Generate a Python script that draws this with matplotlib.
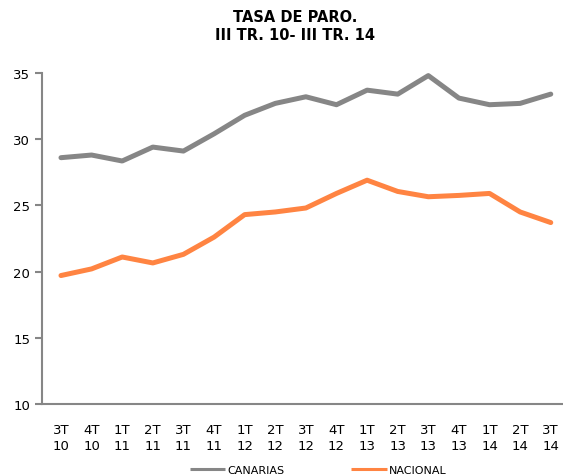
import matplotlib
matplotlib.use("Agg")
from matplotlib import pyplot as plt

# data
periodos = ["3T\n10", "4T\n10", "1T\n11", "2T\n11", "3T\n11", "4T\n11", "1T\n12", "2T\n12",
            "3T\n12", "4T\n12", "1T\n13", "2T\n13", "3T\n13", "4T\n13", "1T\n14", "2T\n14", "3T\n14"]
canarias = [28.6, 28.8, 28.35, 29.4, 29.1, 30.4, 31.8, 32.7, 33.2, 32.6, 33.7, 33.4, 34.8,
            33.1, 32.6, 32.7, 33.4]
nacional = [19.7, 20.2, 21.1, 20.65, 21.3, 22.6, 24.3, 24.5, 24.8, 25.9, 26.9, 26.05, 25.65,
            25.75, 25.9, 24.5, 23.7]

gris = "#868686"
naranja = "#FF8442"

fig = plt.figure(figsize=(5.63, 4.77), dpi=100)
ax = fig.add_axes([0.0746, 0.151, 0.9254, 0.694])

x = list(range(len(periodos)))
ax.plot(x, canarias, color=gris, lw=3.6, label="CANARIAS", solid_capstyle="round")
ax.plot(x, nacional, color=naranja, lw=3.6, label="NACIONAL", solid_capstyle="round")

ax.set_ylim(10, 35)
ax.set_yticks([10, 15, 20, 25, 30, 35])
ax.set_xlim(-0.62, 16.4)
ax.set_xticks(x)
ax.set_xticklabels(periodos, linespacing=1.3)

for s in ["top", "right"]:
    ax.spines[s].set_visible(False)
for s in ["left", "bottom"]:
    ax.spines[s].set_color(gris)
    ax.spines[s].set_linewidth(1.5)

ax.tick_params(axis="y", colors=gris, labelcolor="black", labelsize=9.5, length=5, width=1.5)
ax.tick_params(axis="x", length=0, labelsize=9.5, pad=14)

fig.text(0.524, 0.98, "TASA DE PARO.\nIII TR. 10- III TR. 14", ha="center", va="top",
         fontsize=10.5, fontweight="bold", linespacing=1.25)

leg = fig.legend(loc="lower center", bbox_to_anchor=(0.565, -0.018), ncol=2, frameon=False,
                 fontsize=8, handlelength=3.2, columnspacing=6, handletextpad=0.2)
for ln in leg.get_lines():
    ln.set_linewidth(2.2)
    ln.set_solid_capstyle("butt")

fig.savefig("out.png", dpi=100)
